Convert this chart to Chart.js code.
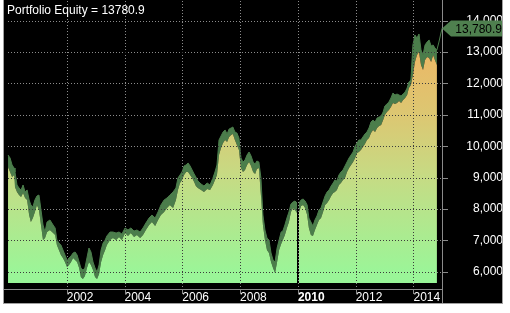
<!DOCTYPE html>
<html>
<head>
<meta charset="utf-8">
<script src="https://cdn.jsdelivr.net/npm/chart.js@4/dist/chart.umd.min.js"></script>
<style>
  html, body { margin: 0; padding: 0; background: #fff; }
  canvas { display: block; }
</style>
</head>
<body>
<canvas id="equityChart" width="510" height="313"></canvas>
<script>
// Portfolio equity (decimal years)
const dates = [
  1999.97, 2000.04, 2000.11, 2000.18, 2000.21, 2000.28, 2000.35, 2000.42, 2000.49, 2000.56, 2000.63, 2000.70, 2000.76, 2000.83, 2000.90, 2000.97,
  2001.04, 2001.11, 2001.18, 2001.25, 2001.32, 2001.42, 2001.53, 2001.60, 2001.66, 2001.73, 2001.80, 2001.87, 2001.94,
  2002.01, 2002.08, 2002.15, 2002.22, 2002.29, 2002.36, 2002.43, 2002.49, 2002.56, 2002.63, 2002.70, 2002.77, 2002.84, 2002.91, 2002.98,
  2003.05, 2003.12, 2003.19, 2003.26, 2003.33, 2003.39, 2003.50, 2003.60, 2003.71, 2003.81, 2003.91,
  2004.02, 2004.12, 2004.22, 2004.33, 2004.43, 2004.54, 2004.64, 2004.74, 2004.85, 2004.95,
  2005.06, 2005.16, 2005.26, 2005.37, 2005.47, 2005.57, 2005.68, 2005.78, 2005.85, 2005.92, 2005.99,
  2006.06, 2006.13, 2006.20, 2006.27, 2006.34, 2006.41, 2006.47, 2006.54, 2006.65, 2006.75, 2006.86, 2006.96,
  2007.06, 2007.13, 2007.20, 2007.27, 2007.34, 2007.41, 2007.48, 2007.55, 2007.62, 2007.69, 2007.75, 2007.82, 2007.89, 2007.96,
  2008.03, 2008.10, 2008.17, 2008.24, 2008.31, 2008.38, 2008.45, 2008.52, 2008.58, 2008.65, 2008.72, 2008.79, 2008.86, 2008.93,
  2009.00, 2009.07, 2009.14, 2009.21, 2009.28, 2009.35, 2009.42, 2009.48, 2009.55, 2009.62, 2009.69, 2009.76, 2009.83, 2009.90, 2009.97,
  2010.04, 2010.11, 2010.18, 2010.25, 2010.32, 2010.38, 2010.45, 2010.52, 2010.59, 2010.66, 2010.73, 2010.80, 2010.87, 2010.94,
  2011.01, 2011.08, 2011.15, 2011.22, 2011.28, 2011.35, 2011.42, 2011.49, 2011.56, 2011.63, 2011.70, 2011.77, 2011.84, 2011.91, 2011.98,
  2012.05, 2012.11, 2012.18, 2012.25, 2012.32, 2012.39, 2012.46, 2012.53, 2012.60, 2012.67, 2012.74, 2012.81, 2012.88, 2012.95,
  2013.01, 2013.08, 2013.15, 2013.22, 2013.29, 2013.36, 2013.43, 2013.50, 2013.57, 2013.64, 2013.71, 2013.78, 2013.84, 2013.91, 2013.98,
  2014.05, 2014.12, 2014.19, 2014.26, 2014.33, 2014.40, 2014.47, 2014.54, 2014.61, 2014.68, 2014.74, 2014.81, 2014.88, 2014.95, 2015.00
];

const closeValues = [
  9337, 9177, 9018, 9082, 8699, 8540, 8444, 8381, 8508, 8349, 8285, 7807, 7584, 7711, 7903, 8126,
  7966, 7488, 7010, 7074, 7265, 7329, 7233, 7170, 6851, 6692, 6532, 6437, 6309,
  6150, 6214, 6309, 6437, 6373, 6309, 6118, 5831, 5767, 5863, 6118, 6309, 6214, 6054, 5831,
  5767, 5927, 6309, 6532, 6692, 6851, 7010, 7074, 7010, 7106, 7010,
  7233, 7138, 7233, 7106, 7170, 7074, 7170, 7329, 7488, 7584,
  7456, 7648, 7807, 7903, 8030, 8126, 8030, 8285, 8604, 8827, 8922,
  9082, 9177, 9177, 9082, 8986, 8859, 8731, 8668, 8604, 8540, 8636, 8604,
  8763, 8922, 9082, 9719, 9942, 10102, 10197, 10134, 10293, 10357, 10388, 10197, 10038, 9879,
  9305, 9177, 9241, 9400, 9496, 9369, 9177, 9114, 9273, 9305, 8444, 7488, 7010, 6692,
  6596, 6309, 6118, 5959, 6309, 6692, 6883, 7010, 7170, 7393, 7584, 7903, 8030, 7966, 7871,
  7903, 8094, 8126, 8030, 7807, 7393, 7170, 7138, 7329, 7488, 7648, 7711, 7903, 8126,
  8189, 8285, 8413, 8508, 8540, 8604, 8763, 8827, 8922, 8986, 9177, 9305, 9400, 9496, 9624,
  9783, 9815, 9879, 9974, 10070, 10197, 10261, 10420, 10516, 10452, 10580, 10644, 10675, 10835,
  10994, 11090, 11153, 11249, 11376, 11345, 11376, 11440, 11376, 11472, 11536, 11631, 11854, 11950, 12269,
  12683, 12906, 13002, 12587, 12428, 12747, 12842, 12811, 12683, 12906, 12747, 12587, null, null, null
];

const highValues = [
  9719, 9624, 9400, 9305, 9177, 8763, 8668, 8604, 8763, 8540, 8604, 8285, 8126, 8062, 8285, 8413,
  8444, 7966, 7488, 7265, 7584, 7648, 7488, 7393, 7010, 6915, 6851, 6692, 6532,
  6373, 6437, 6500, 6596, 6628, 6532, 6309, 6118, 6054, 6118, 6437, 6755, 6628, 6309, 6118,
  5990, 6214, 6692, 6915, 7010, 7138, 7265, 7265, 7233, 7265, 7201,
  7393, 7329, 7393, 7297, 7329, 7265, 7393, 7552, 7711, 7807,
  7711, 7903, 8126, 8285, 8349, 8444, 8540, 8668, 8986, 9082, 9177,
  9369, 9400, 9464, 9369, 9241, 9114, 9018, 8891, 8795, 8731, 8827, 8763,
  8986, 9177, 9400, 10197, 10325, 10452, 10516, 10388, 10548, 10580, 10612, 10452, 10420, 10261,
  9624, 9496, 9560, 9719, 9815, 9687, 9496, 9432, 9528, 9496, 8986, 7807, 7329, 7074,
  7010, 6596, 6373, 6309, 6755, 7010, 7265, 7297, 7488, 7711, 7903, 8158, 8221, 8253, 8189,
  8189, 8285, 8317, 8253, 8126, 7711, 7584, 7456, 7648, 7775, 7966, 8030, 8221, 8413,
  8540, 8604, 8731, 8827, 8922, 8891, 9082, 9177, 9241, 9369, 9496, 9624, 9719, 9815, 10006,
  10102, 10197, 10197, 10293, 10388, 10452, 10580, 10771, 10835, 10771, 10898, 10930, 10962, 11090,
  11281, 11345, 11408, 11536, 11695, 11631, 11663, 11631, 11600, 11663, 11727, 11854, 12046, 12109, 13225,
  13544, 13448, 13576, 13066, 12906, 13225, 13320, 13384, 13193, 13225, 13129, 13066, 13320, 13607, 13780.9
];

const yearTicks = [2002, 2004, 2006, 2008, 2010, 2012, 2014];
const equityTicks = [6000, 7000, 8000, 9000, 10000, 11000, 12000, 13000, 14000];
const separatorYear = 2010;
const fillBase = 5640;

const FONT = "'Liberation Sans', Arial, sans-serif";
const DARK_GREEN = '#4b7d4b';
const GRID_ON_BLACK = '#8c8c8c';
const GRID_ON_FILL = '#3c3c3c';
const AXIS = '#8a8a8a';
const lastEquity = highValues[highValues.length - 1];

function equityGradient(ctx) {
  const area = ctx.chart.chartArea;
  if (!area) return '#a0f0a0';
  const g = ctx.chart.ctx.createLinearGradient(0, area.bottom, 0, area.top);
  g.addColorStop(0.00, '#98f698');
  g.addColorStop(0.06, '#9bf598');
  g.addColorStop(0.39, '#c6db84');
  g.addColorStop(0.60, '#dcc772');
  g.addColorStop(0.82, '#ebb866');
  g.addColorStop(1.00, '#f0b060');
  return g;
}

// one grid dot: gray where the background is black, dark where it sits on the fill
function gridDot(c, px, py) {
  const p = c.getImageData(px, py, 1, 1).data;
  c.fillStyle = (p[0] + p[1] + p[2] < 60) ? GRID_ON_BLACK : GRID_ON_FILL;
  c.fillRect(px, py, 1, 1);
}

const decorations = {
  id: 'decorations',
  beforeDraw(chart) {
    const c = chart.ctx;
    const {x, y} = chart.scales;
    c.save();
    c.fillStyle = '#fff';
    c.fillRect(0, 0, chart.width, chart.height);
    c.fillStyle = '#000';
    c.fillRect(3, 0, y.right - 3, x.bottom + 1);
    c.restore();
  },
  afterDatasetsDraw(chart) {
    const c = chart.ctx;
    const {x, y} = chart.scales;
    const area = chart.chartArea;
    // 2010 separator
    const px = Math.round(x.getPixelForValue(separatorYear));
    c.save();
    c.strokeStyle = '#000';
    c.lineWidth = 2;
    c.beginPath();
    c.moveTo(px, area.top);
    c.lineTo(px, y.getPixelForValue(fillBase));
    c.stroke();
    c.restore();
  },
  afterDraw(chart) {
    const c = chart.ctx;
    const {x, y} = chart.scales;
    const area = chart.chartArea;
    const top = Math.round(area.top), bottom = Math.round(area.bottom);
    const left = Math.round(area.left), right = Math.round(area.right);
    c.save();

    // dotted grid
    yearTicks.forEach(v => {
      const gx = Math.round(x.getPixelForValue(v));
      for (let gy = top + 1; gy < bottom; gy += 3) gridDot(c, gx, gy);
    });
    equityTicks.forEach(v => {
      const gy = Math.round(y.getPixelForValue(v));
      for (let gx = left + 1; gx < right - 1; gx += 3) gridDot(c, gx, gy);
    });

    // axis lines and tick marks
    c.fillStyle = AXIS;
    c.fillRect(3, bottom, right - 3, 1);
    c.fillRect(right - 1, 0, 1, Math.round(x.bottom));
    yearTicks.forEach(v => {
      c.fillRect(Math.round(x.getPixelForValue(v)), bottom + 1, 1, 4);
    });
    equityTicks.forEach(v => {
      c.fillRect(right, Math.round(y.getPixelForValue(v)), 5, 1);
    });

    // outer frame
    c.fillStyle = '#a0a0a0';
    c.fillRect(3, 0, 1, Math.round(x.bottom) + 1);
    c.fillRect(3, Math.round(x.bottom), Math.round(y.right) - 3, 1);
    c.fillRect(Math.round(y.right) - 1, 0, 1, Math.round(x.bottom) + 1);

    // title
    c.fillStyle = '#fff';
    c.font = '12px ' + FONT;
    c.textBaseline = 'alphabetic';
    c.textAlign = 'left';
    c.fillText('Portfolio Equity = ' + lastEquity, 7, 14);

    // last value tag
    const yv = Math.round(y.getPixelForValue(lastEquity)) + 0.5;
    const tip = y.left - 1;
    c.fillStyle = '#4f804f';
    c.beginPath();
    c.moveTo(tip, yv);
    c.lineTo(tip + 9, yv - 8);
    c.lineTo(y.right - 1, yv - 8);
    c.lineTo(y.right - 1, yv + 8);
    c.lineTo(tip + 9, yv + 8);
    c.closePath();
    c.fill();
    c.fillStyle = '#000';
    c.textBaseline = 'middle';
    c.textAlign = 'right';
    c.fillText(lastEquity.toLocaleString('en-US', {minimumFractionDigits: 1}), y.right - 1, yv + 1);
    c.restore();
  }
};

new Chart(document.getElementById('equityChart'), {
  type: 'line',
  data: {
    datasets: [{
      label: 'Equity',
      data: dates.map((d, i) => ({x: d, y: closeValues[i]})),
      borderColor: 'transparent',
      borderWidth: 0,
      pointRadius: 0,
      tension: 0,
      fill: {value: fillBase},
      backgroundColor: equityGradient
    }, {
      label: 'High',
      data: dates.map((d, i) => ({x: d, y: highValues[i]})),
      borderColor: DARK_GREEN,
      borderWidth: 1,
      pointRadius: 0,
      tension: 0,
      fill: '-1',
      backgroundColor: DARK_GREEN
    }]
  },
  options: {
    responsive: false,
    devicePixelRatio: 1,
    animation: false,
    events: [],
    layout: { padding: { left: 7, right: 7, top: 0, bottom: 10 } },
    plugins: { legend: { display: false }, tooltip: { enabled: false } },
    scales: {
      x: {
        type: 'linear',
        position: 'bottom',
        min: 1999.934,
        max: 2015.021,
        afterBuildTicks: s => { s.ticks = yearTicks.map(v => ({value: v})); },
        afterFit: s => { s.height = 14; s.paddingLeft = 0; s.paddingRight = 0; },
        grid: { display: false, drawTicks: true, tickLength: 4 },
        border: { display: false },
        ticks: {
          color: '#fff',
          align: 'start',
          padding: -3,
          maxRotation: 0,
          autoSkip: false,
          font: ctx => ({ family: FONT, size: 12, weight: ctx.tick && ctx.tick.value === separatorYear ? 'bold' : 'normal' }),
          callback: v => String(v)
        }
      },
      y: {
        type: 'linear',
        position: 'right',
        min: 5449,
        max: 14659,
        afterBuildTicks: s => { s.ticks = equityTicks.map(v => ({value: v})); },
        afterFit: s => { s.width = 60; s.paddingTop = 0; s.paddingBottom = 0; },
        grid: { display: false, drawTicks: true, tickLength: 20 },
        border: { display: false },
        ticks: {
          color: '#fff',
          crossAlign: 'far',
          padding: 0,
          autoSkip: false,
          font: { family: FONT, size: 12 },
          callback: v => v.toLocaleString('en-US')
        }
      }
    }
  },
  plugins: [decorations]
});
</script>
</body>
</html>
